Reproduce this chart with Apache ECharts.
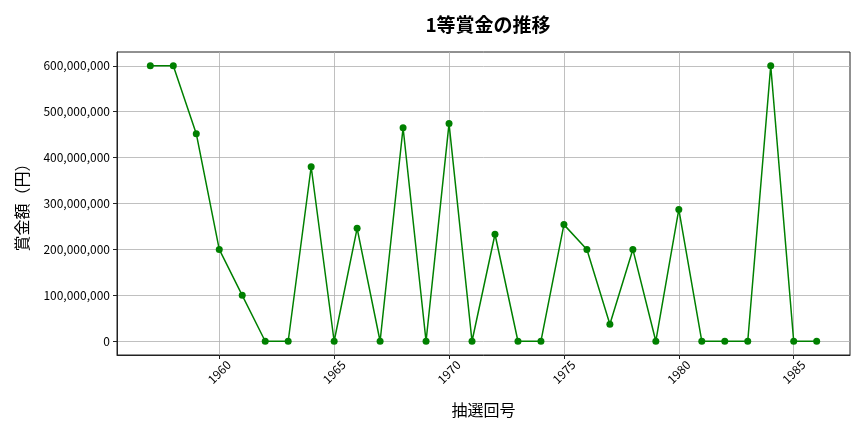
<!DOCTYPE html>
<html>
<head>
<meta charset="utf-8">
<script src="https://cdn.jsdelivr.net/npm/echarts@6/dist/echarts.min.js"></script>
<style>
  html, body { margin: 0; padding: 0; background: #fff; }
  #chart { width: 864px; height: 432px; }
</style>
</head>
<body>
<div id="chart"></div>
<script>
// 抽選回号 (x) and 1等賞金 (y)
const years = [1957, 1958, 1959, 1960, 1961, 1962, 1963, 1964, 1965, 1966,
  1967, 1968, 1969, 1970, 1971, 1972, 1973, 1974, 1975, 1976,
  1977, 1978, 1979, 1980, 1981, 1982, 1983, 1984, 1985, 1986];
const prizes = [600000000, 600000000, 452000000, 200000000, 100000000, 0, 0, 380000000, 0, 246000000,
  0, 465000000, 0, 474000000, 0, 233000000, 0, 0, 254000000, 200000000,
  37000000, 200000000, 0, 287000000, 0, 0, 0, 600000000, 0, 0];
const xTicks = [1960, 1965, 1970, 1975, 1980, 1985];
const yTicks = [0, 100000000, 200000000, 300000000, 400000000, 500000000, 600000000];

const font = '"Noto Sans CJK JP", "Noto Sans", sans-serif';
const chart = echarts.init(document.getElementById('chart'));

const points = years.map((y, i) => [y, prizes[i]]);

chart.setOption({
  animation: false,
  backgroundColor: '#fff',
  title: {
    text: '1等賞金の推移',
    left: 483,
    top: 10,
    textAlign: 'center',
    textStyle: { fontFamily: font, fontSize: 19, fontWeight: 'bold', color: '#000' }
  },
  grid: {
    left: 117, right: 14, top: 52, bottom: 77,
    show: true, borderColor: '#222', borderWidth: 1, backgroundColor: 'transparent'
  },
  xAxis: {
    type: 'value',
    min: 1955.55,
    max: 1987.45,
    name: '抽選回号',
    nameLocation: 'middle',
    nameGap: 47,
    nameTextStyle: { fontFamily: font, fontSize: 16, color: '#000' },
    axisLine: { show: true, onZero: false, lineStyle: { color: '#222' } },
    axisTick: { show: true, length: 4, lineStyle: { color: '#222' }, customValues: xTicks },
    axisLabel: {
      customValues: xTicks,
      rotate: 45,
      align: 'center',
      verticalAlign: 'middle',
      margin: 17,
      fontFamily: font,
      fontSize: 12,
      color: '#000',
      formatter: v => String(v)
    },
    splitLine: { show: true, lineStyle: { color: '#b0b0b0', width: 0.8 } }
  },
  yAxis: {
    type: 'value',
    min: -30000000,
    max: 630000000,
    name: '賞金額（円）',
    nameLocation: 'middle',
    nameGap: 87,
    nameTextStyle: { fontFamily: font, fontSize: 16, color: '#000' },
    axisLine: { show: true, lineStyle: { color: '#222' } },
    axisTick: { show: true, length: 4, lineStyle: { color: '#222' }, customValues: yTicks },
    axisLabel: {
      customValues: yTicks,
      margin: 7,
      fontFamily: font,
      fontSize: 12,
      color: '#000',
      formatter: v => Number(v).toLocaleString('en-US')
    },
    splitLine: { show: true, lineStyle: { color: '#b0b0b0', width: 0.8 } }
  },
  series: [{
    type: 'line',
    data: points,
    symbol: 'circle',
    symbolSize: 7,
    lineStyle: { color: '#008000', width: 1.5 },
    itemStyle: { color: '#008000' }
  }]
});
</script>
</body>
</html>
